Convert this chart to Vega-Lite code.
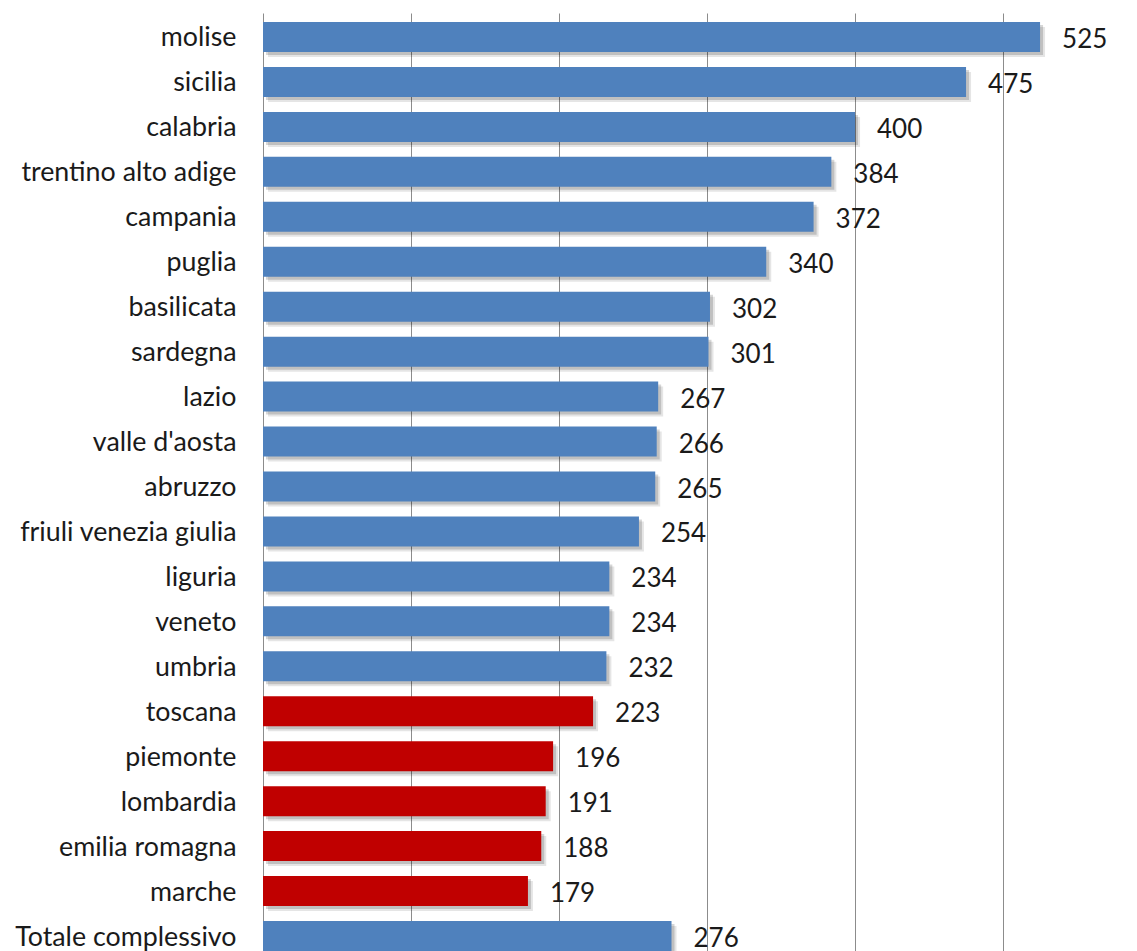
{
  "$schema": "https://vega.github.io/schema/vega-lite/v6.json",
  "width": 874,
  "height": 947,
  "autosize": {"type": "none"},
  "padding": {"left": 263, "top": 13, "right": 0, "bottom": 0},
  "background": "white",
  "config": {"view": {"stroke": null}},
  "data": {
    "values": [
      {"regione": "molise", "valore": 525, "gruppo": "alto"},
      {"regione": "sicilia", "valore": 475, "gruppo": "alto"},
      {"regione": "calabria", "valore": 400, "gruppo": "alto"},
      {"regione": "trentino alto adige", "valore": 384, "gruppo": "alto"},
      {"regione": "campania", "valore": 372, "gruppo": "alto"},
      {"regione": "puglia", "valore": 340, "gruppo": "alto"},
      {"regione": "basilicata", "valore": 302, "gruppo": "alto"},
      {"regione": "sardegna", "valore": 301, "gruppo": "alto"},
      {"regione": "lazio", "valore": 267, "gruppo": "alto"},
      {"regione": "valle d'aosta", "valore": 266, "gruppo": "alto"},
      {"regione": "abruzzo", "valore": 265, "gruppo": "alto"},
      {"regione": "friuli venezia giulia", "valore": 254, "gruppo": "alto"},
      {"regione": "liguria", "valore": 234, "gruppo": "alto"},
      {"regione": "veneto", "valore": 234, "gruppo": "alto"},
      {"regione": "umbria", "valore": 232, "gruppo": "alto"},
      {"regione": "toscana", "valore": 223, "gruppo": "basso"},
      {"regione": "piemonte", "valore": 196, "gruppo": "basso"},
      {"regione": "lombardia", "valore": 191, "gruppo": "basso"},
      {"regione": "emilia romagna", "valore": 188, "gruppo": "basso"},
      {"regione": "marche", "valore": 179, "gruppo": "basso"},
      {"regione": "Totale complessivo", "valore": 276, "gruppo": "totale"}
    ]
  },
  "encoding": {
    "y": {
      "field": "regione",
      "type": "nominal",
      "sort": null,
      "scale": {"paddingInner": 0.333, "paddingOuter": 0.2},
      "axis": {
        "title": null,
        "ticks": false,
        "domain": false,
        "labelFont": "Lato",
        "labelFontSize": 26.8,
        "labelColor": "#1a1a1a",
        "labelPadding": 27,
        "labelOffset": 1.5,
        "labelLimit": 400
      }
    },
    "x": {
      "field": "valore",
      "type": "quantitative",
      "scale": {"domain": [0, 590.5], "nice": false, "zero": true},
      "axis": {
        "title": null,
        "labels": false,
        "ticks": false,
        "domain": false,
        "grid": true,
        "values": [0, 100, 200, 300, 400, 500],
        "gridColor": "#8c8c8c",
        "gridWidth": 1,
        "gridOpacity": 1
      }
    }
  },
  "layer": [
    {
      "mark": {"type": "bar", "color": "#000000", "opacity": 0.1, "xOffset": 5, "yOffset": 5},
      "encoding": {}
    },
    {
      "mark": {"type": "bar", "color": "#000000", "opacity": 0.16, "xOffset": 3, "yOffset": 3},
      "encoding": {}
    },
    {
      "mark": {"type": "bar"},
      "encoding": {
        "color": {
          "field": "gruppo",
          "type": "nominal",
          "scale": {"domain": ["alto", "basso", "totale"], "range": ["#4F81BD", "#C00000", "#4F81BD"]},
          "legend": null
        }
      }
    },
    {
      "mark": {"type": "text", "align": "left", "baseline": "middle", "dx": 22, "dy": 3, "font": "Lato", "fontSize": 26, "color": "#1a1a1a"},
      "encoding": {"text": {"field": "valore", "type": "quantitative"}}
    }
  ]
}
